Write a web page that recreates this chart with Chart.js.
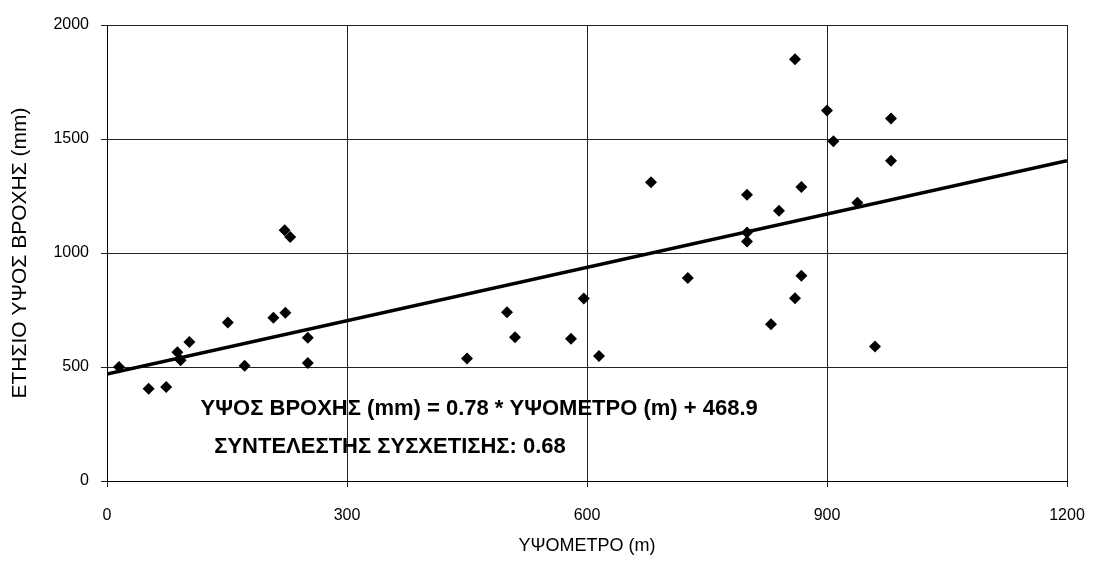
<!DOCTYPE html>
<html lang="el">
  <head>
    <meta charset="UTF-8" />
    <title>ΥΨΟΣ ΒΡΟΧΗΣ - ΥΨΟΜΕΤΡΟ</title>
    <style>
      body { margin: 0; background: #fff; }
      canvas { display: block; }
    </style>
  </head>
  <body>
    <canvas id="scatter" width="1095" height="569"></canvas>

    <script src="https://cdn.jsdelivr.net/npm/chart.js@4.4.0/dist/chart.umd.min.js"></script>
    <script>
      // stations: elevation (m) and annual rainfall (mm)
      const elevation = [15, 52, 74, 88, 92, 103, 151, 172, 208, 222, 229, 223, 251, 251,
        450, 500, 510, 580, 596, 615, 680, 726, 800, 800, 800, 830, 840, 860, 860,
        868, 868, 900, 908, 938, 960, 980, 980];
      const rainfall = [500, 405, 412, 565, 530, 610, 695, 505, 716, 1100, 1070, 738, 628, 518,
        537, 740, 630, 624, 800, 548, 1310, 890, 1255, 1090, 1050, 687, 1185, 1850, 802,
        1290, 900, 1625, 1490, 1220, 590, 1590, 1405];

      // regression line end points (y = 0.78x + 468.9)
      const trendX = [0, 1200];
      const trendY = [469, 1405];

      const xTicks = [0, 300, 600, 900, 1200];
      const yTicks = [0, 500, 1000, 1500, 2000];

      const equationText = "ΥΨΟΣ ΒΡΟΧΗΣ (mm) = 0.78 * ΥΨΟΜΕΤΡΟ (m) + 468.9";
      const correlationText = "ΣΥΝΤΕΛΕΣΤΗΣ ΣΥΣΧΕΤΙΣΗΣ: 0.68";

      const fontFamily = "'Liberation Sans', Arial, sans-serif";

      const points = elevation.map((x, i) => ({ x: x, y: rainfall[i] }));
      const trend = trendX.map((x, i) => ({ x: x, y: trendY[i] }));

      // white background + the two text lines inside the plot
      const annotations = {
        id: "annotations",
        beforeDraw(chart) {
          const ctx = chart.ctx;
          ctx.save();
          ctx.fillStyle = "#fff";
          ctx.fillRect(0, 0, chart.width, chart.height);
          ctx.restore();
        },
        afterDatasetsDraw(chart) {
          const ctx = chart.ctx;
          const xs = chart.scales.x;
          const ys = chart.scales.y;
          ctx.save();
          ctx.fillStyle = "#000";
          ctx.font = "bold 22px " + fontFamily;
          ctx.textAlign = "left";
          ctx.textBaseline = "middle";
          ctx.fillText(equationText, xs.getPixelForValue(117), ys.getPixelForValue(316));
          ctx.fillText(correlationText, xs.getPixelForValue(134), ys.getPixelForValue(149));
          ctx.restore();
        },
      };

      const ctx = document.getElementById("scatter");
      const chart = new Chart(ctx, {
        type: "scatter",
        data: {
          datasets: [
            {
              label: "trend",
              type: "line",
              data: trend,
              borderColor: "#000",
              borderWidth: 3.5,
              pointRadius: 0,
              fill: false,
              order: 2,
            },
            {
              label: "stations",
              data: points,
              pointStyle: "rectRot",
              pointRadius: 6,
              backgroundColor: "#000",
              borderColor: "#000",
              borderWidth: 0,
              order: 1,
            },
          ],
        },
        options: {
          responsive: false,
          animation: false,
          layout: { padding: { top: 25, right: 28, left: 0, bottom: 0 } },
          plugins: {
            legend: { display: false },
            tooltip: { enabled: false },
          },
          scales: {
            x: {
              type: "linear",
              min: 0,
              max: 1200,
              afterBuildTicks: (s) => { s.ticks = xTicks.map((v) => ({ value: v })); },
              afterFit: (s) => { s.height = 88; s.paddingLeft = 0; s.paddingRight = 0; },
              ticks: {
                callback: (v) => String(v),
                color: "#000",
                padding: 19,
                maxRotation: 0,
                font: { family: fontFamily, size: 16 },
              },
              grid: { color: "#222", lineWidth: 1, tickLength: 6 },
              border: { color: "#000", width: 1 },
              title: {
                display: true,
                text: "ΥΨΟΜΕΤΡΟ (m)",
                color: "#000",
                padding: { top: 0, bottom: 12 },
                font: { family: fontFamily, size: 18 },
              },
            },
            y: {
              min: 0,
              max: 2000,
              afterBuildTicks: (s) => { s.ticks = yTicks.map((v) => ({ value: v })); },
              afterFit: (s) => { s.width = 107; s.paddingTop = 0; s.paddingBottom = 0; },
              ticks: {
                callback: (v) => String(v),
                color: "#000",
                padding: 12,
                font: { family: fontFamily, size: 16 },
              },
              grid: { color: "#222", lineWidth: 1, tickLength: 6 },
              border: { color: "#000", width: 1 },
              title: {
                display: true,
                text: "ΕΤΗΣΙΟ ΥΨΟΣ ΒΡΟΧΗΣ (mm)",
                color: "#000",
                padding: { top: 8, bottom: 0 },
                font: { family: fontFamily, size: 21 },
              },
            },
          },
        },
        plugins: [annotations],
      });
    </script>
  </body>
</html>
